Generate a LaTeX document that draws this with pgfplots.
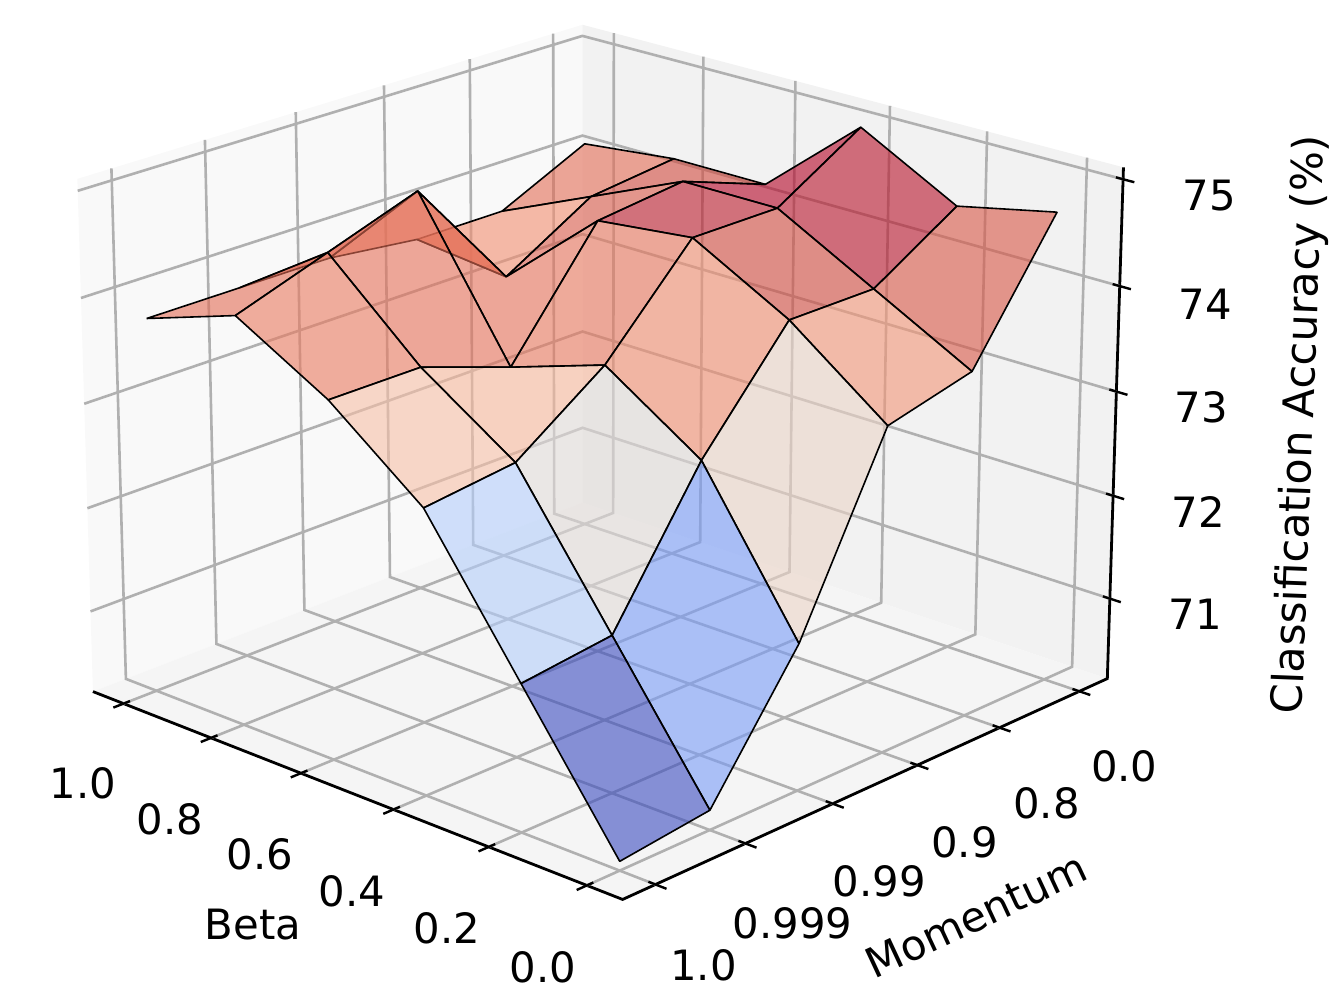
\documentclass[border=0pt]{standalone}
\usepackage{fontspec}
\setmainfont{DejaVu Sans}
\usepackage{pgfplots}
\pgfplotsset{compat=1.18}
\usepackage{pgfplotstable}

% Beta index i = beta/0.2 (0..5); momentum index j: 0=1.0, 1=0.999, 2=0.99, 3=0.9, 4=0.8, 5=0.0
\pgfplotstableread{
i j z
0 0 70.3
0 1 70.4
0 2 71.6
0 3 73.3
0 4 73.5
0 5 74.7
1 0 71.6
1 1 71.7
1 2 73.0
1 3 74.0
1 4 74.0
1 5 74.5
2 0 72.9
2 1 73.0
2 2 73.6
2 3 74.5
2 4 74.5
2 5 75.0
3 0 73.6
3 1 73.6
3 2 73.3
3 3 74.4
3 4 74.5
3 5 74.2
4 0 74.1
4 1 74.4
4 2 74.7
4 3 73.6
4 4 74.1
4 5 74.2
5 0 73.8
5 1 73.8
5 2 73.8
5 3 73.7
5 4 73.7
5 5 74.1
}\surfacedata

\definecolor{gridc}{gray}{0.69}
\definecolor{paneL}{gray}{0.975}
\definecolor{paneR}{gray}{0.95}
\definecolor{paneF}{gray}{0.9625}

\tikzset{lab/.style={font=\fontsize{20.9}{24}\selectfont,inner sep=0pt,anchor=center}}
\pgfplotsset{
  table/proj/.style={
    row sep=\\,
    x expr={PX(\thisrow{i},\thisrow{j},\thisrow{z})},
    y expr={PY(\thisrow{i},\thisrow{j},\thisrow{z})},
  },
  table/projs/.style={
    x expr={PX(\thisrow{i},\thisrow{j},\thisrow{z})},
    y expr={PY(\thisrow{i},\thisrow{j},\thisrow{z})},
  },
  gridl/.style={draw=gridc,line width=1.3pt,no markers,forget plot},
  axl/.style={draw=black,line width=1.4pt,no markers,forget plot,line join=miter},
  tickl/.style={draw=black,line width=1.2pt,no markers,forget plot},
}

\begin{document}
\begin{tikzpicture}
\begin{axis}[
  scale only axis,width=666.5pt,height=500pt,
  xmin=0,xmax=1333,ymin=0,ymax=1000,y dir=reverse,
  hide axis,clip=false,
  /pgf/declare function={
    UU(\a)=0.0625+0.175*\a;
    WW(\c)=0.1605+0.2042*(\c-71);
    DN(\a,\b,\c)=1+0.08584*UU(\a)+0.08964*UU(\b)-0.033*WW(\c);
    PX(\a,\b,\c)=(623-522.02*UU(\a)+584.32*UU(\b)-19.5*WW(\c))/DN(\a,\b,\c);
    PY(\a,\b,\c)=(900-148.6*UU(\a)-160.13*UU(\b)-563*WW(\c))/DN(\a,\b,\c);
  },
  colormap={coolwarm}{
    rgb255=(59,76,192) rgb255=(68,90,204) rgb255=(77,104,215) rgb255=(87,117,225)
    rgb255=(98,130,234) rgb255=(108,142,241) rgb255=(119,154,247) rgb255=(130,165,251)
    rgb255=(141,176,254) rgb255=(152,185,255) rgb255=(163,194,255) rgb255=(174,201,253)
    rgb255=(184,208,249) rgb255=(194,213,244) rgb255=(204,217,238) rgb255=(213,219,230)
    rgb255=(221,221,221) rgb255=(229,216,209) rgb255=(236,211,197) rgb255=(241,204,185)
    rgb255=(245,196,173) rgb255=(247,187,160) rgb255=(247,177,148) rgb255=(247,166,135)
    rgb255=(244,154,123) rgb255=(241,141,111) rgb255=(236,127,99) rgb255=(229,112,88)
    rgb255=(222,96,77) rgb255=(213,80,66) rgb255=(203,62,56) rgb255=(192,40,47)
    rgb255=(180,4,38)
  },
  point meta min=71,point meta max=74.55,
]
% page frame
\path (axis cs:0,0) -- (axis cs:1333,1000);
% panes
\addplot[fill=paneL,draw=none,forget plot] table[proj]{i j z\\ 5.35714 -0.35714 70.214\\ 5.35714 5.35714 70.214\\ 5.35714 5.35714 75.111\\ 5.35714 -0.35714 75.111\\} -- cycle;
\addplot[fill=paneR,draw=none,forget plot] table[proj]{i j z\\ -0.35714 5.35714 70.214\\ 5.35714 5.35714 70.214\\ 5.35714 5.35714 75.111\\ -0.35714 5.35714 75.111\\} -- cycle;
\addplot[fill=paneF,draw=none,forget plot] table[proj]{i j z\\ -0.35714 -0.35714 70.214\\ 5.35714 -0.35714 70.214\\ 5.35714 5.35714 70.214\\ -0.35714 5.35714 70.214\\} -- cycle;
% axis lines
\addplot[axl] table[proj]{i j z\\ 5.35714 -0.35714 70.214\\ -0.35714 -0.35714 70.214\\ -0.35714 5.35714 70.214\\ -0.35714 5.35714 75.111\\};
% grid and ticks
\pgfplotsinvokeforeach{0,1,2,3,4,5}{
  \addplot[gridl] table[proj]{i j z\\ #1 -0.35714 70.214\\ #1 5.35714 70.214\\ #1 5.35714 75.111\\};
  \addplot[gridl] table[proj]{i j z\\ -0.35714 #1 70.214\\ 5.35714 #1 70.214\\ 5.35714 #1 75.111\\};
  \addplot[tickl] table[proj]{i j z\\ #1 -0.46714 70.214\\ #1 -0.28714 70.214\\};
  \addplot[tickl] table[proj]{i j z\\ -0.46714 #1 70.214\\ -0.28714 #1 70.214\\};
}
\pgfplotsinvokeforeach{71,72,73,74,75}{
  \addplot[gridl] table[proj]{i j z\\ -0.35714 5.35714 #1\\ 5.35714 5.35714 #1\\ 5.35714 -0.35714 #1\\};
  \addplot[tickl] table[proj]{i j z\\ -0.46714 5.35714 #1\\ -0.28714 5.35714 #1\\};
}
% surface: each facet with its colour value
\addplot[patch,patch type=rectangle,shader=faceted,faceted color=black,
  line width=0.8pt,fill opacity=0.6,
  table/row sep=\\,
  patch table with point meta={28 34 35 29 74.025\\ 27 33 34 28 73.775\\ 22 28 29 23 74.25\\ 26 32 33 27 73.95\\ 21 27 28 22 74.15\\
    16 22 23 17 74.55\\ 25 31 32 26 74.175\\ 20 26 27 21 74.0\\ 15 21 22 16 74.475\\ 10 16 17 11 74.5\\
    24 30 31 25 74.025\\ 19 25 26 20 74.0\\ 14 20 21 15 73.95\\ 9 15 16 10 74.25\\ 4 10 11 5 74.175\\
    18 24 25 19 73.925\\ 13 19 20 14 73.375\\ 8 14 15 9 73.775\\ 3 9 10 4 73.7\\
    12 18 19 13 73.275\\ 7 13 14 8 72.825\\ 2 8 9 3 72.975\\ 6 12 13 7 72.28\\ 1 7 8 2 71.675\\ 0 6 7 1 71.0\\},
] table[projs] {\surfacedata};
% tick labels
\node[lab] at (axis cs:83,784) {1.0};
\node[lab] at (axis cs:170,820) {0.8};
\node[lab] at (axis cs:260,855) {0.6};
\node[lab] at (axis cs:352,892) {0.4};
\node[lab] at (axis cs:447,929) {0.2};
\node[lab] at (axis cs:543,968) {0.0};
\node[lab] at (axis cs:704,966) {1.0};
\node[lab] at (axis cs:793,924) {0.999};
\node[lab] at (axis cs:880,882) {0.99};
\node[lab] at (axis cs:965,843) {0.9};
\node[lab] at (axis cs:1047,804) {0.8};
\node[lab] at (axis cs:1125,767) {0.0};
\node[lab] at (axis cs:1196,615) {71};
\node[lab] at (axis cs:1199,512) {72};
\node[lab] at (axis cs:1202,408) {73};
\node[lab] at (axis cs:1206,304) {74};
\node[lab] at (axis cs:1210,196) {75};
\node[lab] at (axis cs:253,925) {Beta};
\node[lab,rotate=25] at (axis cs:977,916) {Momentum};
\node[lab,rotate=87.8,font=\fontsize{21.4}{24}\selectfont] at (axis cs:1302,425) {Classification Accuracy (\%)};
\end{axis}
\end{tikzpicture}
\end{document}
